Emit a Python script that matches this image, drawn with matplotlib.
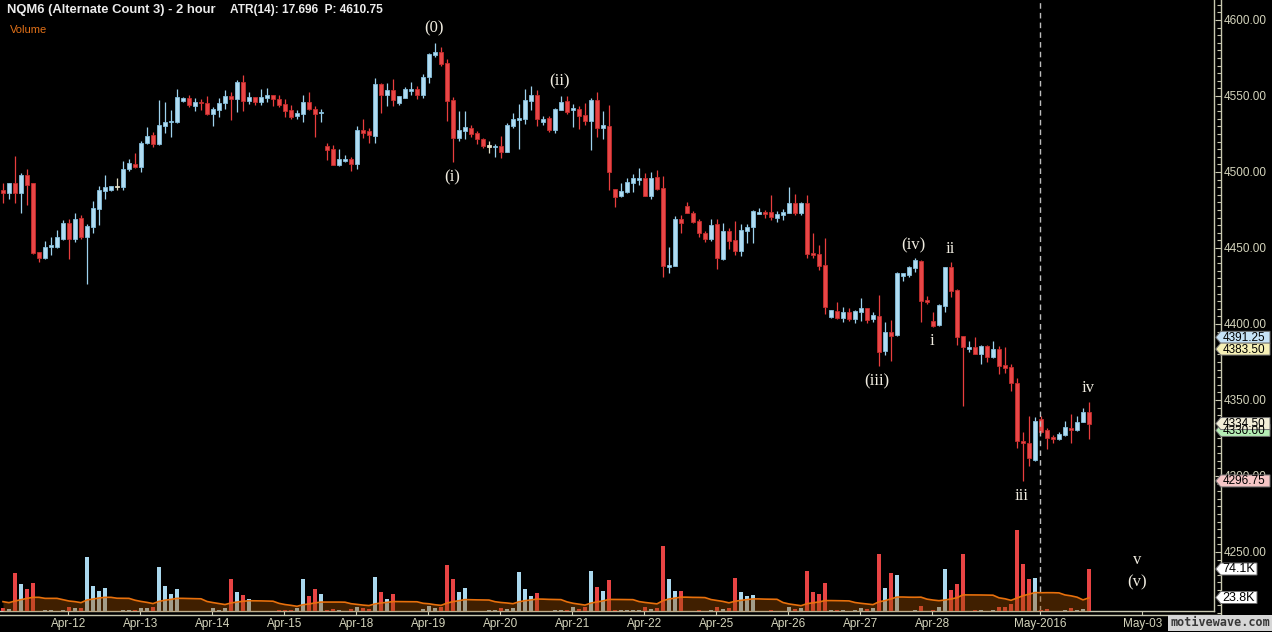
import numpy as np
import pandas as pd
import matplotlib
matplotlib.use("Agg")
import matplotlib.pyplot as plt
from matplotlib.patches import Polygon
from matplotlib.ticker import FixedLocator, MultipleLocator, FuncFormatter

plt.rcParams['font.family'] = ['Liberation Sans', 'DejaVu Sans']

# ------------------------------------------------------------------ data
opens = [4488.25, 4486.25, 4492.75, 4486.25, 4498.0, 4492.75, 4447.5, 4443.5, 4450.75, 4450.75,
         4456.0, 4466.5, 4456.0, 4469.75, 4457.25, 4463.75, 4475.75, 4487.5, 4488.25, 4490.25,
         4490.25, 4502.0, 4505.25, 4503.25, 4519.0, 4524.5, 4518.5, 4530.25, 4533.0, 4533.0,
         4546.75, 4548.75, 4543.5, 4546.0, 4545.5, 4538.25, 4540.75, 4545.5, 4550.0, 4548.0,
         4559.25, 4546.75, 4549.5, 4546.0, 4548.75, 4550.75, 4548.0, 4544.75, 4540.75, 4537.0,
         4538.25, 4546.0, 4541.5, 4538.75, 4517.0, 4515.25, 4504.5, 4507.25, 4508.5, 4505.25,
         4527.75, 4527.0, 4523.75, 4558.0, 4550.75, 4554.0, 4545.5, 4548.75, 4553.25, 4554.5,
         4550.75, 4562.5, 4577.0, 4579.0, 4571.75, 4547.5, 4522.5, 4527.0, 4529.0, 4525.75,
         4521.75, 4516.75, 4516.5, 4517.0, 4513.25, 4530.25, 4534.25, 4535.0, 4546.75, 4550.75,
         4533.0, 4535.5, 4527.75, 4540.75, 4546.75, 4540.75, 4541.5, 4537.5, 4533.5, 4547.5,
         4529.0, 4530.25, 4488.75, 4484.25, 4487.0, 4492.75, 4494.75, 4496.0, 4484.25, 4496.75,
         4489.5, 4437.5, 4438.25, 4469.0, 4477.75, 4473.0, 4467.75, 4460.0, 4456.0, 4465.75,
         4442.75, 4461.25, 4455.25, 4448.0, 4461.25, 4463.75, 4472.5, 4473.75, 4473.75, 4469.75,
         4471.75, 4473.0, 4479.5, 4473.0, 4479.5, 4446.75, 4446.0, 4438.75, 4404.5, 4408.5,
         4404.0, 4408.0, 4403.25, 4408.0, 4410.5, 4403.25, 4405.25, 4382.25, 4394.75, 4392.75,
         4431.5, 4432.25, 4437.0, 4441.5, 4415.75, 4402.0, 4399.25, 4412.0, 4437.5, 4422.5,
         4392.0, 4383.5, 4385.0, 4380.25, 4385.5, 4378.25, 4383.5, 4373.0, 4371.75, 4361.25,
         4323.0, 4321.75, 4310.5, 4337.5, 4330.25, 4325.75, 4324.25, 4327.0, 4331.5, 4330.25,
         4335.5, 4342.0]
highs = [4492.75, 4492.75, 4510.5, 4499.5, 4502.0, 4492.75, 4447.5, 4454.5, 4457.25, 4462.0,
         4468.5, 4469.0, 4473.0, 4471.75, 4465.75, 4481.0, 4490.75, 4498.0, 4490.75, 4496.0,
         4507.25, 4508.5, 4512.5, 4520.5, 4529.5, 4526.25, 4547.5, 4546.0, 4540.75, 4554.5,
         4549.5, 4550.75, 4548.75, 4548.0, 4550.0, 4542.75, 4548.75, 4554.0, 4552.75, 4560.5,
         4563.75, 4552.75, 4549.5, 4554.5, 4555.25, 4550.75, 4550.75, 4548.0, 4544.0, 4540.75,
         4550.75, 4552.75, 4543.5, 4541.5, 4519.0, 4517.75, 4515.25, 4511.25, 4510.0, 4530.25,
         4535.0, 4529.0, 4562.0, 4558.5, 4558.5, 4561.25, 4550.0, 4556.0, 4559.25, 4556.5,
         4564.5, 4578.25, 4585.0, 4582.25, 4574.5, 4549.5, 4540.25, 4540.25, 4531.0, 4527.0,
         4522.5, 4520.5, 4518.5, 4523.75, 4532.25, 4538.75, 4544.75, 4554.5, 4556.5, 4554.0,
         4537.0, 4537.0, 4542.0, 4550.0, 4550.0, 4544.75, 4543.5, 4545.5, 4548.75, 4552.75,
         4540.25, 4544.0, 4488.75, 4492.75, 4496.0, 4498.75, 4502.75, 4499.5, 4500.0, 4501.25,
         4497.5, 4450.75, 4471.0, 4471.75, 4480.25, 4474.5, 4469.0, 4461.25, 4469.0, 4469.0,
         4466.5, 4463.25, 4467.75, 4465.75, 4465.75, 4475.0, 4476.25, 4475.0, 4485.0, 4474.5,
         4475.75, 4490.25, 4485.5, 4480.25, 4485.0, 4460.0, 4452.0, 4456.5, 4409.25, 4414.5,
         4411.25, 4410.5, 4409.25, 4417.0, 4410.5, 4408.0, 4419.0, 4401.25, 4402.5, 4434.25,
         4433.5, 4438.25, 4443.5, 4442.0, 4418.5, 4408.0, 4413.25, 4437.5, 4440.75, 4423.0,
         4392.0, 4388.75, 4391.5, 4386.25, 4386.25, 4388.75, 4385.5, 4385.0, 4373.75, 4364.5,
         4329.0, 4339.5, 4338.75, 4339.5, 4331.5, 4327.0, 4329.0, 4336.25, 4340.75, 4339.5,
         4344.75, 4348.75]
lows = [4479.5, 4482.25, 4479.5, 4473.0, 4478.25, 4446.0, 4440.75, 4442.75, 4445.5, 4450.0,
        4455.25, 4442.75, 4454.0, 4456.0, 4426.25, 4460.0, 4465.0, 4482.25, 4487.5, 4488.25,
        4488.25, 4500.75, 4502.75, 4500.0, 4518.5, 4516.5, 4517.75, 4525.75, 4523.0, 4532.25,
        4546.0, 4542.75, 4540.25, 4540.75, 4537.5, 4530.25, 4536.25, 4541.5, 4534.25, 4539.5,
        4540.25, 4544.75, 4544.0, 4544.0, 4546.0, 4543.5, 4542.75, 4536.25, 4535.0, 4535.0,
        4533.0, 4540.75, 4523.0, 4533.0, 4508.0, 4504.5, 4504.0, 4506.5, 4500.75, 4502.0,
        4522.5, 4519.0, 4519.0, 4538.75, 4543.5, 4543.5, 4544.0, 4548.75, 4550.75, 4548.0,
        4548.75, 4558.5, 4575.75, 4569.75, 4533.5, 4506.5, 4520.5, 4521.75, 4523.0, 4518.5,
        4515.75, 4512.5, 4510.0, 4509.25, 4513.25, 4529.0, 4515.25, 4531.5, 4540.75, 4530.25,
        4531.0, 4526.25, 4525.75, 4540.75, 4538.25, 4529.5, 4528.25, 4531.0, 4514.5, 4523.0,
        4521.75, 4488.25, 4477.0, 4483.5, 4486.25, 4487.0, 4491.5, 4484.25, 4482.25, 4488.25,
        4431.0, 4433.5, 4438.25, 4460.0, 4473.0, 4466.5, 4457.25, 4454.0, 4454.5, 4436.25,
        4442.0, 4449.5, 4445.5, 4444.75, 4453.25, 4453.25, 4472.5, 4469.75, 4468.5, 4467.0,
        4468.5, 4473.0, 4471.75, 4471.75, 4443.5, 4443.5, 4435.5, 4406.5, 4404.0, 4403.25,
        4401.25, 4402.0, 4400.75, 4402.0, 4400.75, 4401.25, 4372.5, 4379.5, 4375.75, 4392.0,
        4428.25, 4431.0, 4434.25, 4401.25, 4413.25, 4398.0, 4398.75, 4408.0, 4417.75, 4386.25,
        4346.0, 4381.5, 4380.25, 4373.75, 4375.0, 4377.5, 4367.0, 4367.75, 4356.0, 4318.5,
        4296.75, 4306.5, 4310.0, 4328.25, 4317.75, 4321.75, 4323.75, 4326.25, 4321.75, 4329.5,
        4335.5, 4324.25]
closes = [4486.25, 4492.75, 4486.25, 4498.0, 4491.5, 4446.75, 4443.5, 4450.75, 4452.0, 4457.25,
          4466.5, 4456.0, 4469.0, 4457.25, 4464.5, 4476.25, 4488.25, 4490.25, 4490.75, 4490.25,
          4502.0, 4506.0, 4503.25, 4519.0, 4523.75, 4518.5, 4531.0, 4533.0, 4533.5, 4549.5,
          4548.75, 4544.0, 4546.0, 4545.5, 4538.25, 4541.5, 4545.5, 4550.0, 4548.0, 4559.25,
          4546.75, 4549.5, 4546.0, 4549.5, 4550.75, 4548.0, 4544.0, 4540.25, 4536.25, 4538.75,
          4546.0, 4541.5, 4538.25, 4539.5, 4514.5, 4504.5, 4508.5, 4508.5, 4505.25, 4527.75,
          4525.75, 4524.5, 4558.0, 4550.75, 4554.0, 4547.5, 4550.0, 4554.5, 4554.5, 4550.75,
          4562.5, 4577.75, 4579.0, 4571.0, 4546.75, 4522.5, 4527.75, 4529.5, 4525.0, 4521.75,
          4517.0, 4516.75, 4517.0, 4513.25, 4531.0, 4535.0, 4535.5, 4547.5, 4550.75, 4535.0,
          4535.0, 4527.75, 4541.5, 4546.0, 4539.5, 4542.0, 4537.0, 4533.5, 4547.5, 4529.0,
          4531.0, 4500.0, 4483.5, 4487.5, 4493.5, 4496.0, 4496.0, 4484.25, 4496.0, 4488.75,
          4438.25, 4438.75, 4469.0, 4466.5, 4473.0, 4467.0, 4460.0, 4456.0, 4465.0, 4443.5,
          4461.25, 4454.5, 4448.0, 4462.0, 4463.75, 4474.5, 4473.75, 4472.5, 4470.5, 4472.5,
          4473.75, 4479.5, 4473.0, 4479.5, 4446.0, 4445.5, 4438.25, 4411.25, 4409.25, 4404.0,
          4408.0, 4403.25, 4408.5, 4410.5, 4402.5, 4406.0, 4381.5, 4394.75, 4392.0, 4433.5,
          4433.5, 4437.5, 4442.0, 4415.0, 4414.5, 4398.75, 4412.5, 4437.5, 4421.75, 4391.5,
          4385.0, 4385.0, 4380.25, 4385.5, 4378.25, 4383.5, 4372.5, 4371.0, 4361.25, 4323.0,
          4321.75, 4311.75, 4336.25, 4329.0, 4325.0, 4324.25, 4327.5, 4332.25, 4330.25, 4335.5,
          4342.0, 4334.5]
volume_k = [4.8, 3.5, 67, 47.6, 38.8, 49.4, 0.5, 1.8, 1.8, 0.5,
            1.8, 7.1, 4.8, 4.8, 95.3, 44.1, 35.3, 40.6, 0.5, 0.5,
            1.8, 1.8, 1.5, 4.8, 4.8, 7.1, 77.6, 44.1, 30, 38.8,
            0.5, 0.5, 0.5, 0.5, 0.5, 4.8, 1.8, 4.8, 56.4, 33.5,
            28.2, 21.2, 0.5, 0.5, 0.5, 0.5, 1.8, 1.8, 1.8, 4.8,
            56.4, 26.5, 38.8, 30, 1.8, 3.5, 1.8, 0.5, 3.5, 7.1,
            5.3, 3.5, 60, 33.5, 21.2, 30, 0.5, 0.5, 0.5, 0.5,
            3.5, 8.8, 5.3, 7.1, 81.1, 56.4, 33.5, 40.6, 0.5, 0.5,
            0.5, 1.8, 1.8, 5.3, 3.5, 5.3, 68.8, 38.8, 26.5, 31.8,
            0.5, 0.5, 1.8, 1.8, 1.8, 7.1, 3.5, 7.1, 70.6, 42.3,
            35.3, 54.7, 1.8, 1.8, 1.8, 1.8, 1.8, 7.1, 3.5, 5.3,
            114.7, 56.4, 35.3, 35.3, 0.5, 0.5, 1.8, 0.5, 1.8, 7.1,
            3.5, 5.3, 58.2, 33.5, 26.5, 28.2, 0.5, 0.5, 1.8, 0.5,
            0.5, 7.1, 3.5, 5.3, 70.6, 33.5, 30, 49.4, 1.8, 1.8,
            1.8, 0.5, 1.8, 5.3, 3.5, 5.3, 100.5, 40.6, 67, 63.5,
            0.5, 0.5, 1.8, 8.8, 0.5, 1.8, 7.1, 74.1, 37, 47.6,
            100.5, 0.5, 1.8, 1.8, 0.5, 1.8, 7.1, 7.1, 12.3, 142.9,
            82.9, 56.4, 58.2, 1.8, 3.5, 0.5, 0.5, 1.8, 5.3, 1.8,
            3.5, 74.1]
# volume moving average for the first bars (earlier data not shown)
vol_ma_head = [16.5, 14.7, 17.6, 20.0, 22.3, 24.1, 24.1, 22.3, 22.3, 22.3,
               20.0, 17.6, 16.5, 14.7, 19.4, 21.2, 22.9, 24.1, 24.1]
vol_ma_period = 20

date_ticks = [11.9, 23.9, 35.9, 47.9, 59.9, 71.9, 83.9, 95.9, 107.9, 119.9,
              131.9, 143.9, 155.9, 173.8, 190.9]
date_labels = ["Apr-12", "Apr-13", "Apr-14", "Apr-15", "Apr-18", "Apr-19", "Apr-20",
               "Apr-21", "Apr-22", "Apr-25", "Apr-26", "Apr-27", "Apr-28", "May-2016", "May-03"]
month_break = 173.8

wave_text = ["(0)", "(i)", "(ii)", "(iii)", "(iv)", "i", "ii", "iii", "iv", "v", "(v)"]
wave_bar = [72.8, 75.8, 93.8, 146.7, 152.8, 155.8, 158.8, 170.7, 181.8, 190.0, 190.0]
wave_price = [4594.8, 4496.7, 4559.9, 4362.5, 4452.0, 4388.8, 4449.4, 4286.8, 4357.9, 4244.7, 4230.2]

price_tag_values = [4391.25, 4383.50, 4330.00, 4334.50, 4296.75]
price_tag_colors = ['#c6e2f6', '#f6f0b6', '#b6eeb6', '#f2eed8', '#f6c6c6']
volume_tag_values = [74.1, 23.8]

title_text = "NQM6 (Alternate Count 3) - 2 hour"
atr_text = "ATR(14): 17.696  P: 4610.75"

# ------------------------------------------------------------------ layout helpers
W, H = 1272, 632
BAR_PX = 6.0          # pixels per bar
PT_PX = 1.52          # pixels per price point
REF_PRICE, REF_Y = 4600.0, 20.0


def bar_at(px):
    return (px + 3.0) / BAR_PX


def price_at(py):
    return REF_PRICE - (py - REF_Y) / PT_PX


def rect(x0, y0, x1, y1):
    return [x0 / W, 1 - y1 / H, (x1 - x0) / W, (y1 - y0) / H]


AX_COL = '#c8c8b0'
LBL_COL = '#d4d4bc'
UP_FACE, UP_EDGE = '#b0dcf2', '#84bedc'
DN_FACE, DN_EDGE = '#e84646', '#c42c2c'
DOJI = '#e2dec6'

o = np.array(opens); h = np.array(highs); l = np.array(lows); c = np.array(closes)
v = np.array(volume_k, dtype=float)
x = np.arange(1, len(o) + 1)

face = np.where(c > o, UP_FACE, np.where(c < o, DN_FACE, DOJI))
edge = np.where(c > o, UP_EDGE, np.where(c < o, DN_EDGE, DOJI))
wick = np.where(c > o, '#9ed2ee', np.where(c < o, '#e83e3e', DOJI))

fig = plt.figure(figsize=(W / 100, H / 100), dpi=100, facecolor='black')

# outer axis lines (price scale + time scale)
ax_out = fig.add_axes(rect(0, 0, 1220.7, 615), zorder=1)
ax_out.set_facecolor('black')
ax_out.set_xlim(bar_at(0), bar_at(1220.7))
ax_out.set_ylim(price_at(615), price_at(0))
for s in ['top', 'left']:
    ax_out.spines[s].set_visible(False)
for s in ['right', 'bottom']:
    ax_out.spines[s].set_color(AX_COL)
    ax_out.spines[s].set_linewidth(1.0)
ax_out.yaxis.tick_right()
ax_out.yaxis.set_major_locator(MultipleLocator(50))
ax_out.yaxis.set_minor_locator(MultipleLocator(5))
ax_out.yaxis.set_major_formatter(FuncFormatter(lambda val, pos: f"{val:.2f}"))
ax_out.tick_params(axis='y', which='major', direction='in', length=4.5, width=0.8,
                   color=AX_COL, labelcolor=LBL_COL, labelsize=8.5, pad=1.8)
ax_out.tick_params(axis='y', which='minor', direction='in', length=2.8, width=0.8, color=AX_COL)
ax_out.xaxis.set_major_locator(FixedLocator(date_ticks))
ax_out.set_xticklabels(date_labels)
ax_out.tick_params(axis='x', which='major', direction='in', length=3.6, width=0.8,
                   color=AX_COL, labelcolor=LBL_COL, labelsize=8.5, pad=2.2)

# main price panel
ax = fig.add_axes(rect(0, 0, 1214, 611), zorder=2)
ax.set_facecolor('black')
ax.set_xlim(bar_at(0), bar_at(1214))
ax.set_ylim(price_at(611), price_at(0))
for s in ['top', 'left']:
    ax.spines[s].set_visible(False)
for s in ['right', 'bottom']:
    ax.spines[s].set_color(AX_COL)
    ax.spines[s].set_linewidth(1.0)
ax.set_xticks([]); ax.set_yticks([])

ax.vlines(x, l, h, colors=wick, linewidth=0.9, zorder=2)
body_bottom = np.minimum(o, c)
body_height = np.maximum(np.abs(c - o), 0.7)
ax.bar(x, body_height, bottom=body_bottom, width=0.78, color=face, edgecolor=edge,
       linewidth=0.6, zorder=3)

ax.axvline(month_break, color='#bdbdbd', linewidth=1.0, linestyle=(0, (4, 3)), zorder=5)

for t, b, p in zip(wave_text, wave_bar, wave_price):
    ax.text(b, p, t, color='#f0ece0', fontsize=12, family=['Liberation Serif', 'DejaVu Serif'],
            ha='center', va='center', zorder=6)

# volume panel (overlay at the bottom of the price panel)
VOL_PX_PER_K = 42.0 / 74.1
ax_vol = fig.add_axes(rect(0, 521, 1214, 611), zorder=3)
ax_vol.patch.set_alpha(0)
ax_vol.set_xlim(bar_at(0), bar_at(1214))
ax_vol.set_ylim(0, 90 / VOL_PX_PER_K)
ax_vol.axis('off')
ax_vol.bar(x, v, width=0.7, color=np.where(c >= o, '#aad8ee', '#e84444'), linewidth=0, zorder=2)
ma = pd.Series(v).rolling(vol_ma_period).mean().to_numpy()
ma[:len(vol_ma_head)] = vol_ma_head
ax_vol.fill_between(x, 0, ma, color='#9a4c00', alpha=0.42, linewidth=0, zorder=3)
ax_vol.plot(x, ma, color='#e8700c', linewidth=1.2, zorder=4)

# overlay for tags / texts in pixel space
ov = fig.add_axes([0, 0, 1, 1], zorder=10)
ov.set_xlim(0, W); ov.set_ylim(H, 0); ov.axis('off'); ov.patch.set_alpha(0)


def to_px(axis, val):
    disp = axis.transData.transform((axis.get_xlim()[0], val))[1]
    return H - disp


def tag(yc, text, col, x1, size):
    pts = [(1215.7, yc), (1220.7, yc - 6), (x1, yc - 6), (x1, yc + 6), (1220.7, yc + 6)]
    ov.add_patch(Polygon(pts, closed=True, facecolor=col, edgecolor='#707070', linewidth=0.7))
    ov.text(1222.3, yc + 0.5, text, color='black', fontsize=size, ha='left', va='center')


for val, col in zip(price_tag_values, price_tag_colors):
    tag(to_px(ax, val), f"{val:.2f}", col, 1270, 8.5)
for val in volume_tag_values:
    tag(to_px(ax_vol, val), f"{val:.1f}K", 'white', 1257, 9)

# header texts
ov.text(7, 10, title_text, color='#ececec', fontsize=9.4, fontweight='bold', ha='left', va='center')
ov.text(230, 10, atr_text, color='#ececec', fontsize=8.6, fontweight='bold', ha='left', va='center')
ov.text(10, 30, "Volume", color='#e07018', fontsize=8, ha='left', va='center')

# watermark
ov.text(1220, 623, "motivewave.com", color='#383838', fontsize=8.5, fontweight='bold',
        family='DejaVu Sans Mono', ha='center', va='center',
        bbox=dict(boxstyle='square,pad=0.15', facecolor='#d6d6d6', edgecolor='none'))

fig.savefig('out.png', dpi=100, facecolor='black')
